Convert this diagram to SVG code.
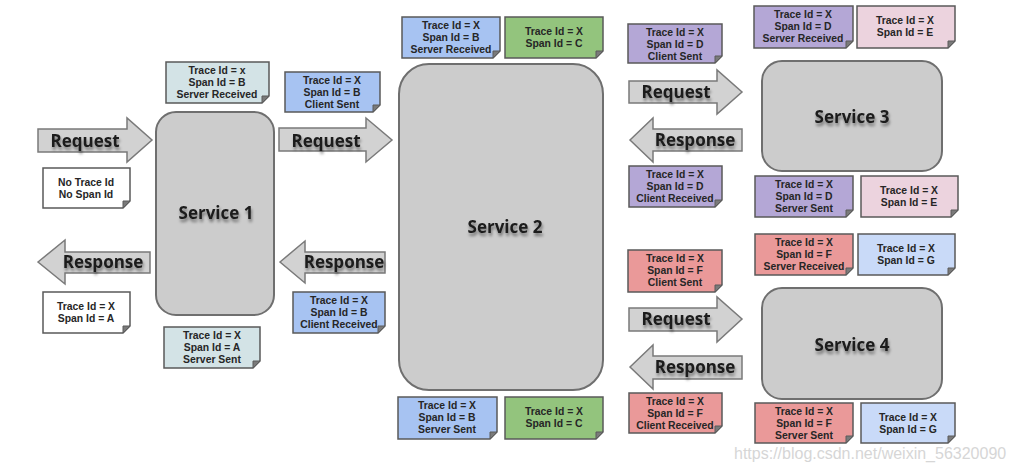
<svg xmlns="http://www.w3.org/2000/svg" width="1014" height="471" viewBox="0 0 1014 471">
<defs>
<style>
.svc{fill:#cccccc;stroke:#6f6f6f;stroke-width:2}
.arr{fill:#d2d2d2;stroke:#7a7a7a;stroke-width:1.5;stroke-linejoin:miter}
.big{font-family:"Open Sans","Noto Sans",sans-serif;font-weight:700;font-size:17px;fill:#1a1a1a;text-anchor:middle}
.nt{font-family:"Liberation Sans",Arial,sans-serif;font-weight:700;font-size:10.4px;fill:#262626;text-anchor:middle}
.note{stroke:#5a5a5a;stroke-width:1.5}
.fold{fill:#7a7a7a;stroke:#5a5a5a;stroke-width:1}
.white{fill:#ffffff}.teal{fill:#d3e3e6}.blue{fill:#a7c3f2}.green{fill:#93c47d}.purple{fill:#b4a7d6}.pink{fill:#ecd3de}.red{fill:#ea9999}.lblue{fill:#c9daf8}
.wm{font-family:"Liberation Sans",Arial,sans-serif;font-size:16px;fill:#d6d6d6}
</style>
<filter id="ts" x="-10%" y="-40%" width="125%" height="200%">
<feGaussianBlur in="SourceAlpha" stdDeviation="1.6"/>
<feOffset dx="1" dy="3" result="b"/>
<feFlood flood-color="#000" flood-opacity="0.45"/>
<feComposite in2="b" operator="in"/>
<feMerge><feMergeNode/><feMergeNode in="SourceGraphic"/></feMerge>
</filter>
</defs>
<rect width="1014" height="471" fill="#ffffff"/>

<g id="connectors">
<g id="req1"><polygon class="arr" points="38,129 127,129 127,118 152,140 127,162 127,152 38,152"/><text class="big" x="85" y="147" filter="url(#ts)">Request</text></g>
<g id="resp1"><polygon class="arr" points="38,262 65,240 65,252 150,252 150,273 65,273 65,284"/><text class="big" x="103" y="268" filter="url(#ts)">Response</text></g>
<g id="req2"><polygon class="arr" points="279,128 366,128 366,118 392,140 366,162 366,151 279,151"/><text class="big" x="326" y="147" filter="url(#ts)">Request</text></g>
<g id="resp2"><polygon class="arr" points="280,262 305,241 305,252 385,252 385,273 305,273 305,283"/><text class="big" x="344" y="268" filter="url(#ts)">Response</text></g>
<g id="req3"><polygon class="arr" points="629,81 717,81 717,70 742,92 717,114 717,103 629,103"/><text class="big" x="676" y="98" filter="url(#ts)">Request</text></g>
<g id="resp3"><polygon class="arr" points="630,140 653,118 653,129 742,129 742,151 653,151 653,162"/><text class="big" x="695" y="146" filter="url(#ts)">Response</text></g>
<g id="req4"><polygon class="arr" points="629,308 717,308 717,297 742,319 717,342 717,331 629,331"/><text class="big" x="676" y="325" filter="url(#ts)">Request</text></g>
<g id="resp4"><polygon class="arr" points="630,367 653,345 653,356 742,356 742,379 653,379 653,389"/><text class="big" x="695" y="373" filter="url(#ts)">Response</text></g>
</g>

<g id="service1"><rect class="svc" x="156" y="112" width="118" height="203" rx="20"/><text class="big" x="216" y="219" filter="url(#ts)">Service 1</text></g>
<g id="service2"><rect class="svc" x="399" y="64" width="204" height="326" rx="30"/><text class="big" x="505" y="233" filter="url(#ts)">Service 2</text></g>
<g id="service3"><rect class="svc" x="762" y="61" width="180" height="110" rx="20"/><text class="big" x="852" y="123" filter="url(#ts)">Service 3</text></g>
<g id="service4"><rect class="svc" x="762" y="288" width="180" height="111" rx="20"/><text class="big" x="852" y="351" filter="url(#ts)">Service 4</text></g>

<g id="n1"><path class="note white" d="M43 168H130V201L123 208H43Z"/><polygon class="fold" points="130,201 123,208 123,201"/><text class="nt" x="86" y="186">No Trace Id</text><text class="nt" x="86" y="198">No Span Id</text></g>
<g id="n2"><path class="note white" d="M43 292H130V326L123 333H43Z"/><polygon class="fold" points="130,326 123,333 123,326"/><text class="nt" x="86" y="310">Trace Id = X</text><text class="nt" x="86" y="322">Span Id = A</text></g>
<g id="n3"><path class="note teal" d="M166 62H269V96L262 103H166Z"/><polygon class="fold" points="269,96 262,103 262,96"/><text class="nt" x="217" y="74">Trace Id = x</text><text class="nt" x="217" y="86">Span Id = B</text><text class="nt" x="217" y="98">Server Received</text></g>
<g id="n4"><path class="note teal" d="M164 327H260V361L253 368H164Z"/><polygon class="fold" points="260,361 253,368 253,361"/><text class="nt" x="212" y="339">Trace Id = X</text><text class="nt" x="212" y="351">Span Id = A</text><text class="nt" x="212" y="363">Server Sent</text></g>
<g id="n5"><path class="note blue" d="M285 72H380V105L373 112H285Z"/><polygon class="fold" points="380,105 373,112 373,105"/><text class="nt" x="332" y="84">Trace Id = X</text><text class="nt" x="332" y="96">Span Id = B</text><text class="nt" x="332" y="108">Client Sent</text></g>
<g id="n6"><path class="note blue" d="M293 292H385V326L378 333H293Z"/><polygon class="fold" points="385,326 378,333 378,326"/><text class="nt" x="339" y="304">Trace Id = X</text><text class="nt" x="339" y="316">Span Id = B</text><text class="nt" x="339" y="328">Client Received</text></g>
<g id="n7"><path class="note blue" d="M402 17H500V51L493 58H402Z"/><polygon class="fold" points="500,51 493,58 493,51"/><text class="nt" x="451" y="29">Trace Id = X</text><text class="nt" x="451" y="41">Span Id = B</text><text class="nt" x="451" y="53">Server Received</text></g>
<g id="n8"><path class="note green" d="M505 17H603V51L596 58H505Z"/><polygon class="fold" points="603,51 596,58 596,51"/><text class="nt" x="554" y="35">Trace Id = X</text><text class="nt" x="554" y="47">Span Id = C</text></g>
<g id="n9"><path class="note blue" d="M398 397H497V432L490 439H398Z"/><polygon class="fold" points="497,432 490,439 490,432"/><text class="nt" x="447" y="409">Trace Id = X</text><text class="nt" x="447" y="421">Span Id = B</text><text class="nt" x="447" y="433">Server Sent</text></g>
<g id="n10"><path class="note green" d="M505 397H603V432L596 439H505Z"/><polygon class="fold" points="603,432 596,439 596,432"/><text class="nt" x="554" y="415">Trace Id = X</text><text class="nt" x="554" y="427">Span Id = C</text></g>
<g id="n11"><path class="note purple" d="M628 24H722V56L715 63H628Z"/><polygon class="fold" points="722,56 715,63 715,56"/><text class="nt" x="675" y="36">Trace Id = X</text><text class="nt" x="675" y="48">Span Id = D</text><text class="nt" x="675" y="60">Client Sent</text></g>
<g id="n12"><path class="note purple" d="M754 6H853V41L846 48H754Z"/><polygon class="fold" points="853,41 846,48 846,41"/><text class="nt" x="803" y="18">Trace Id = X</text><text class="nt" x="803" y="30">Span Id = D</text><text class="nt" x="803" y="42">Server Received</text></g>
<g id="n13"><path class="note pink" d="M857 6H955V41L948 48H857Z"/><polygon class="fold" points="955,41 948,48 948,41"/><text class="nt" x="905" y="24">Trace Id = X</text><text class="nt" x="905" y="36">Span Id = E</text></g>
<g id="n14"><path class="note purple" d="M629 166H722V200L715 207H629Z"/><polygon class="fold" points="722,200 715,207 715,200"/><text class="nt" x="675" y="178">Trace Id = X</text><text class="nt" x="675" y="190">Span Id = D</text><text class="nt" x="675" y="202">Client Received</text></g>
<g id="n15"><path class="note purple" d="M755 176H853V210L846 217H755Z"/><polygon class="fold" points="853,210 846,217 846,210"/><text class="nt" x="804" y="188">Trace Id = X</text><text class="nt" x="804" y="200">Span Id = D</text><text class="nt" x="804" y="212">Server Sent</text></g>
<g id="n16"><path class="note pink" d="M861 176H958V210L951 217H861Z"/><polygon class="fold" points="958,210 951,217 951,210"/><text class="nt" x="909" y="194">Trace Id = X</text><text class="nt" x="909" y="206">Span Id = E</text></g>
<g id="n17"><path class="note red" d="M755 234H853V268L846 275H755Z"/><polygon class="fold" points="853,268 846,275 846,268"/><text class="nt" x="804" y="246">Trace Id = X</text><text class="nt" x="804" y="258">Span Id = F</text><text class="nt" x="804" y="270">Server Received</text></g>
<g id="n18"><path class="note lblue" d="M858 234H955V268L948 275H858Z"/><polygon class="fold" points="955,268 948,275 948,268"/><text class="nt" x="906" y="252">Trace Id = X</text><text class="nt" x="906" y="264">Span Id = G</text></g>
<g id="n19"><path class="note red" d="M628 250H722V285L715 292H628Z"/><polygon class="fold" points="722,285 715,292 715,285"/><text class="nt" x="675" y="262">Trace Id = X</text><text class="nt" x="675" y="274">Span Id = F</text><text class="nt" x="675" y="286">Client Sent</text></g>
<g id="n20"><path class="note red" d="M629 393H722V426L715 433H629Z"/><polygon class="fold" points="722,426 715,433 715,426"/><text class="nt" x="675" y="405">Trace Id = X</text><text class="nt" x="675" y="417">Span Id = F</text><text class="nt" x="675" y="429">Client Received</text></g>
<g id="n21"><path class="note red" d="M755 403H853V436L846 443H755Z"/><polygon class="fold" points="853,436 846,443 846,436"/><text class="nt" x="804" y="415">Trace Id = X</text><text class="nt" x="804" y="427">Span Id = F</text><text class="nt" x="804" y="439">Server Sent</text></g>
<g id="n22"><path class="note lblue" d="M861 403H955V436L948 443H861Z"/><polygon class="fold" points="955,436 948,443 948,436"/><text class="nt" x="908" y="421">Trace Id = X</text><text class="nt" x="908" y="433">Span Id = G</text></g>

<text class="wm" x="734" y="459">https://blog.csdn.net/weixin_56320090</text>
</svg>
